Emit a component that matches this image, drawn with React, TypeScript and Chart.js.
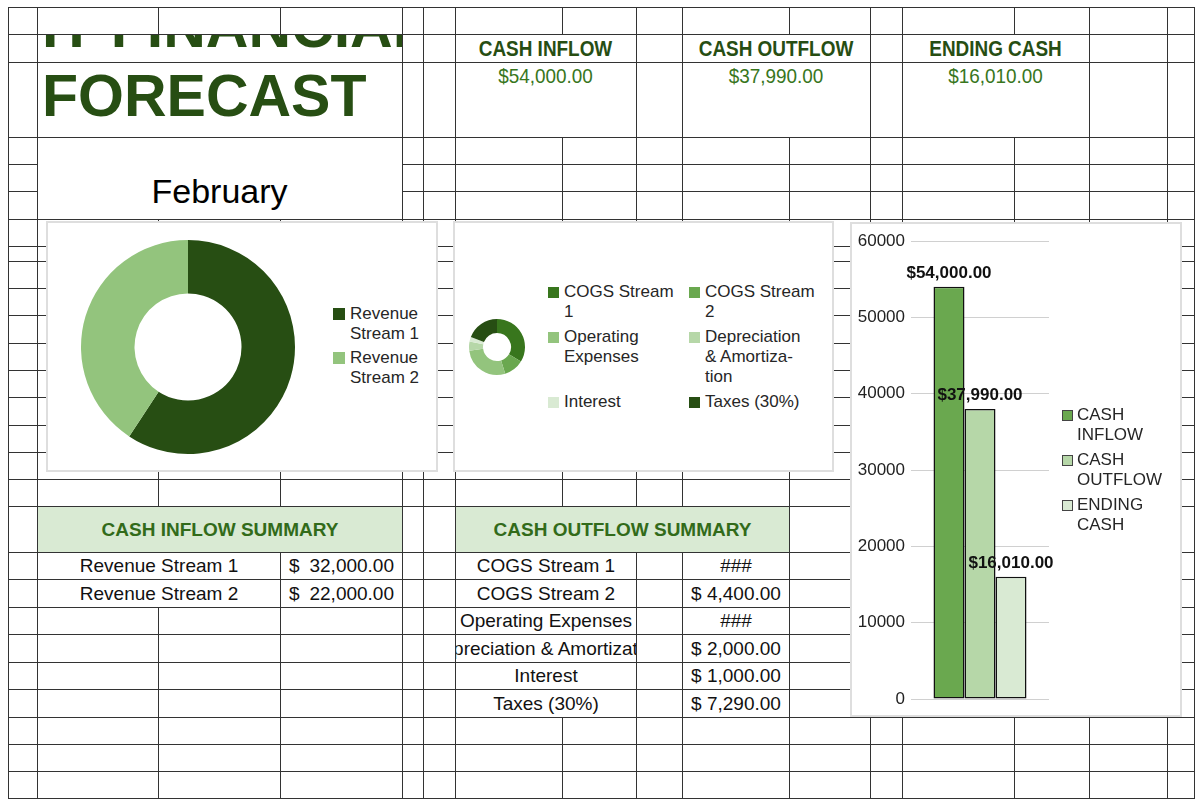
import React, { useEffect, useRef } from "react";
import { Chart, registerables } from "chart.js";
Chart.register(...registerables);

// ---------------- data ----------------
const monthLabel = "February";
const titleLines = ["IT FINANCIAL", "FORECAST"];

const revenueLabels = ["Revenue Stream 1", "Revenue Stream 2"];
const revenueValues = [32000, 22000];
const revenueColors = ["#274e13", "#93c47d"];
const revenueLegendLines = [["Revenue", "Stream 1"], ["Revenue", "Stream 2"]];

const outflowLabels = [
  "COGS Stream 1",
  "COGS Stream 2",
  "Operating Expenses",
  "Depreciation & Amortization",
  "Interest",
  "Taxes (30%)",
];
const outflowValues = [12800, 4400, 10500, 2000, 1000, 7290];
const outflowColors = ["#38761d", "#6aa84f", "#93c47d", "#b6d7a8", "#d9ead3", "#274e13"];
const outflowLegendLines = [
  ["COGS Stream", "1"],
  ["COGS Stream", "2"],
  ["Operating", "Expenses"],
  ["Depreciation", "& Amortiza-", "tion"],
  ["Interest"],
  ["Taxes (30%)"],
];

const summaryLabels = ["CASH INFLOW", "CASH OUTFLOW", "ENDING CASH"];
const summaryValues = [54000, 37990, 16010];
const summaryColors = ["#6aa84f", "#b6d7a8", "#d9ead3"];
const summaryLegendLines = [["CASH", "INFLOW"], ["CASH", "OUTFLOW"], ["ENDING", "CASH"]];
const yTickValues = [0, 10000, 20000, 30000, 40000, 50000, 60000];

// ---------------- layout ----------------
const FONT = "'Liberation Sans', Arial, Helvetica, sans-serif";
Chart.defaults.font.family = FONT;

const COLS = [8, 37, 158, 280, 402, 423, 455, 562, 636, 682, 789, 870, 902, 1014, 1089, 1167, 1194];
const ROWS = [7, 34, 62, 137, 164, 191, 219, 246, 261, 288, 315, 343, 370, 397, 425, 452, 479, 506, 552, 579, 607, 634, 662, 689, 717, 744, 771, 798];
const MERGES = [
  [37, 402, 34, 62], [37, 402, 62, 137],
  [455, 636, 34, 62], [455, 636, 62, 137],
  [682, 870, 34, 62], [682, 870, 62, 137],
  [902, 1089, 34, 62], [902, 1089, 62, 137],
  [37, 402, 137, 219],
  [37, 402, 506, 552], [455, 789, 506, 552],
  [37, 280, 552, 579], [37, 280, 579, 607],
  [455, 636, 552, 579], [455, 636, 579, 607], [455, 636, 607, 634],
  [455, 636, 634, 662], [455, 636, 662, 689], [455, 636, 689, 717],
];
const LINE = "#333333";
const LW = 1.25;

const fmtNum = (v: number) =>
  v.toLocaleString("en-US", { minimumFractionDigits: 2, maximumFractionDigits: 2 });
const fmtMoney = (v: number) => "$" + fmtNum(v);

function GridLines() {
  const segs: any[] = [];
  ROWS.forEach((y) => {
    for (let i = 0; i < COLS.length - 1; i++) {
      const x0 = COLS[i], x1 = COLS[i + 1];
      const hidden = MERGES.some((m) => m[2] < y && y < m[3] && m[0] <= x0 && x1 <= m[1]);
      if (!hidden)
        segs.push(<div key={`h${y}-${x0}`} style={{ position: "absolute", left: x0, top: y, width: x1 - x0 + LW, height: LW, background: LINE }} />);
    }
  });
  COLS.forEach((x) => {
    for (let j = 0; j < ROWS.length - 1; j++) {
      const y0 = ROWS[j], y1 = ROWS[j + 1];
      const hidden = MERGES.some((m) => m[0] < x && x < m[1] && m[2] <= y0 && y1 <= m[3]);
      if (!hidden)
        segs.push(<div key={`v${x}-${y0}`} style={{ position: "absolute", left: x, top: y0, width: LW, height: y1 - y0 + LW, background: LINE }} />);
    }
  });
  return <>{segs}</>;
}

// text placed by baseline
function BText({ x, w, baseline, size, bold, color, children, align = "center", sx = 1 }: any) {
  return (
    <div
      style={{
        position: "absolute", left: x, width: w, top: baseline - 0.8465 * size,
        fontSize: size, lineHeight: `${size}px`, fontWeight: bold ? 700 : 400,
        color, fontFamily: FONT, textAlign: align, whiteSpace: "nowrap",
        transform: sx !== 1 ? `scaleX(${sx})` : undefined, transformOrigin: "50% 50%",
      }}
    >
      {children}
    </div>
  );
}

// cell with centered content (clipped)
function Cell({ x0, x1, y0, y1, size = 19, bold, color = "#111", children, justify = "center", pl = 0, pr = 0 }: any) {
  return (
    <div
      style={{
        position: "absolute", left: x0 + 1, top: y0 + 1, width: x1 - x0 - 1, height: y1 - y0 - 1,
        display: "flex", alignItems: "center", justifyContent: justify, overflow: "hidden",
        whiteSpace: "nowrap", fontSize: size, fontWeight: bold ? 700 : 400, color, fontFamily: FONT,
        paddingLeft: pl, paddingRight: pr, boxSizing: "border-box",
      }}
    >
      {children}
    </div>
  );
}

function DoughnutCanvas({ left, top, size, pad, labels, values, colors }: any) {
  const ref = useRef<HTMLCanvasElement>(null);
  useEffect(() => {
    const chart = new Chart(ref.current as HTMLCanvasElement, {
      type: "doughnut",
      data: { labels, datasets: [{ data: values, backgroundColor: colors, borderWidth: 0 }] },
      options: {
        responsive: false,
        animation: false,
        cutout: "50%",
        layout: { padding: pad },
        plugins: { legend: { display: false }, tooltip: { enabled: false } },
      },
    });
    return () => chart.destroy();
  }, []);
  return (
    <canvas ref={ref} width={size} height={size}
      style={{ position: "absolute", left, top, width: size, height: size, zIndex: 3 }} />
  );
}

const barLabelPlugin = {
  id: "barLabels",
  afterDatasetsDraw(chart: any) {
    const ctx = chart.ctx;
    ctx.save();
    ctx.font = `700 17px ${FONT}`;
    ctx.fillStyle = "#111";
    ctx.textAlign = "center";
    ctx.textBaseline = "bottom";
    chart.data.datasets.forEach((ds: any, i: number) => {
      const meta = chart.getDatasetMeta(i);
      meta.data.forEach((el: any, j: number) => {
        ctx.fillText(fmtMoney(ds.data[j]), el.x, el.y - 5);
      });
    });
    ctx.restore();
  },
};

function BarCanvas() {
  const ref = useRef<HTMLCanvasElement>(null);
  useEffect(() => {
    const chart = new Chart(ref.current as HTMLCanvasElement, {
      type: "bar",
      data: {
        labels: [monthLabel],
        datasets: summaryLabels.map((l, i) => ({
          label: l,
          data: [summaryValues[i]],
          backgroundColor: summaryColors[i],
          borderColor: "#111",
          borderWidth: 1.5,
          borderSkipped: false,
          categoryPercentage: 0.674,
          barPercentage: 1,
        })),
      },
      options: {
        responsive: false,
        animation: false,
        layout: { padding: { top: 19, bottom: 18, left: 0, right: 133 } },
        plugins: { legend: { display: false }, tooltip: { enabled: false } },
        scales: {
          x: { display: false },
          y: {
            min: 0,
            max: 60000,
            afterBuildTicks: (s: any) => { s.ticks = yTickValues.map((v) => ({ value: v })); },
            afterFit: (s: any) => { s.width = 61; },
            ticks: { color: "#222", font: { size: 17, family: FONT }, padding: 6, callback: (v: any) => String(v) },
            grid: { color: "#d0d0d0", drawTicks: false, lineWidth: 1 },
            border: { display: false },
          },
        },
      } as any,
      plugins: [barLabelPlugin],
    });
    return () => chart.destroy();
  }, []);
  return (
    <canvas ref={ref} width={332} height={495}
      style={{ position: "absolute", left: 850, top: 222, width: 332, height: 495, zIndex: 3 }} />
  );
}

function LegendItem({ x, top, color, lines, border, sq = 11, gap = 16 }: any) {
  return (
    <div style={{ position: "absolute", left: x, top, zIndex: 4, fontFamily: FONT, fontSize: 17, lineHeight: "20px", color: "#262626" }}>
      <div style={{ position: "absolute", left: 0, top: 10 - sq / 2, width: sq, height: sq, background: color, boxSizing: "border-box", border: border ? "1px solid #444" : "none" }} />
      <div style={{ position: "absolute", left: gap, top: 0, whiteSpace: "nowrap" }}>
        {lines.map((t: string, k: number) => <div key={k}>{t}</div>)}
      </div>
    </div>
  );
}

function Box({ left, top, width, height }: any) {
  return (
    <div style={{ position: "absolute", left, top, width, height, background: "#fff", border: "2px solid #dedede", boxSizing: "border-box", zIndex: 2 }} />
  );
}

export default function App() {
  const leg1Tops: number[] = [];
  { let t = 304; revenueLegendLines.forEach((l) => { leg1Tops.push(t); t += l.length * 20 + 4; }); }
  const leg3Tops: number[] = [];
  { let t = 405; summaryLegendLines.forEach((l) => { leg3Tops.push(t); t += l.length * 20 + 5; }); }
  const leg2Pos: { x: number; top: number }[] = [];
  {
    let t = 282;
    for (let r = 0; r < outflowLegendLines.length; r += 2) {
      const a = outflowLegendLines[r], b = outflowLegendLines[r + 1] || [];
      leg2Pos.push({ x: 548, top: t });
      leg2Pos.push({ x: 689, top: t });
      t += Math.max(a.length, b.length) * 20 + 5;
    }
  }

  const topCells = [[455, 636], [682, 870], [902, 1089]];

  return (
    <div style={{ position: "absolute", left: 0, top: 0, width: 1200, height: 806, background: "#fff", overflow: "hidden", fontFamily: FONT }}>
      {/* fills */}
      <div style={{ position: "absolute", left: 37, top: 506, width: 365, height: 46, background: "#d9ead3" }} />
      <div style={{ position: "absolute", left: 455, top: 506, width: 334, height: 46, background: "#d9ead3" }} />

      {/* title (clipped) */}
      <div style={{ position: "absolute", left: 38, top: 35, width: 364, height: 102, overflow: "hidden" }}>
        <BText x={4} w={600} baseline={48 - 35} size={59} bold color="#274e13" align="left">{titleLines[0]}</BText>
        <BText x={4} w={600} baseline={117 - 35} size={59} bold color="#274e13" align="left">{titleLines[1]}</BText>
      </div>
      <BText x={37} w={365} baseline={203} size={34} color="#000">{monthLabel}</BText>

      {/* top summary */}
      {summaryLabels.map((l, i) => (
        <React.Fragment key={l}>
          <BText x={topCells[i][0]} w={topCells[i][1] - topCells[i][0]} baseline={57} size={22} bold color="#274e13" sx={0.86}>{l}</BText>
          <BText x={topCells[i][0]} w={topCells[i][1] - topCells[i][0]} baseline={83} size={21} color="#38761d" sx={0.9}>{fmtMoney(summaryValues[i])}</BText>
        </React.Fragment>
      ))}

      {/* inflow table */}
      <Cell x0={37} x1={402} y0={506} y1={552} bold color="#326b1a">CASH INFLOW SUMMARY</Cell>
      {revenueLabels.map((l, i) => (
        <React.Fragment key={l}>
          <Cell x0={37} x1={280} y0={ROWS[18 + i]} y1={ROWS[19 + i]}>{l}</Cell>
          <Cell x0={280} x1={402} y0={ROWS[18 + i]} y1={ROWS[19 + i]} justify="space-between" pl={8} pr={8}>
            <span>$</span><span>{fmtNum(revenueValues[i])}</span>
          </Cell>
        </React.Fragment>
      ))}

      {/* outflow table */}
      <Cell x0={455} x1={789} y0={506} y1={552} bold color="#326b1a">CASH OUTFLOW SUMMARY</Cell>
      {outflowLabels.map((l, i) => (
        <React.Fragment key={l}>
          <Cell x0={455} x1={636} y0={ROWS[18 + i]} y1={ROWS[19 + i]}>{l}</Cell>
          <Cell x0={682} x1={789} y0={ROWS[18 + i]} y1={ROWS[19 + i]}>
            {outflowValues[i] >= 10000 ? "###" : "$ " + fmtNum(outflowValues[i])}
          </Cell>
        </React.Fragment>
      ))}

      <GridLines />

      {/* chart boxes */}
      <Box left={46} top={221} width={392} height={251} />
      <Box left={453} top={221} width={381} height={251} />
      <Box left={850} top={222} width={332} height={495} />

      <DoughnutCanvas left={73} top={232} size={230} pad={8} labels={revenueLabels} values={revenueValues} colors={revenueColors} />
      {revenueLegendLines.map((lines, i) => (
        <LegendItem key={i} x={333} top={leg1Tops[i]} color={revenueColors[i]} lines={lines} sq={12} gap={17} />
      ))}

      <DoughnutCanvas left={467} top={317} size={60} pad={2} labels={outflowLabels} values={outflowValues} colors={outflowColors} />
      {outflowLegendLines.map((lines, i) => (
        <LegendItem key={i} x={leg2Pos[i].x} top={leg2Pos[i].top} color={outflowColors[i]} lines={lines} sq={11} gap={16} />
      ))}

      <BarCanvas />
      {summaryLegendLines.map((lines, i) => (
        <LegendItem key={i} x={1062} top={leg3Tops[i]} color={summaryColors[i]} lines={lines} border sq={11} gap={15} />
      ))}
    </div>
  );
}
